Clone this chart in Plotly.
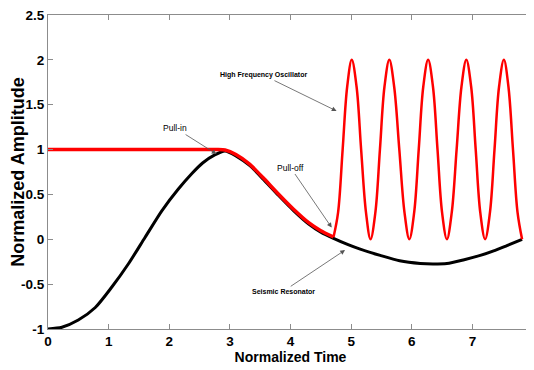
import plotly.graph_objects as go

# Seismic resonator (black)
res_x = [0, 0.23, 0.5, 0.78, 1.05, 1.33, 1.6, 1.88, 2.15, 2.37, 2.55, 2.75, 2.92,
         3.1, 3.33, 3.55, 3.8, 4.05, 4.3, 4.5, 4.71, 4.95, 5.15, 5.48, 5.8, 6.14,
         6.35, 6.58, 6.85, 7.13, 7.35, 7.57, 7.82]
res_y = [-1.0, -0.98, -0.90, -0.76, -0.535, -0.27, 0.02, 0.32, 0.56, 0.73, 0.85, 0.94, 0.985,
         0.93, 0.82, 0.67, 0.49, 0.32, 0.17, 0.08, 0.01, -0.06, -0.11, -0.18, -0.24, -0.27,
         -0.275, -0.27, -0.23, -0.18, -0.13, -0.07, 0.0]

# High frequency oscillator (red) - pull-in / pull-off part
pull_x = [0, 2.8, 2.92, 3.1, 3.33, 3.55, 3.8, 4.05, 4.3, 4.5, 4.71]
pull_y = [1.0, 1.0, 0.995, 0.945, 0.835, 0.685, 0.505, 0.335, 0.185, 0.095, 0.025]

# High frequency oscillator (red) - free oscillation part
osc_x = [4.71, 4.785, 4.86, 4.935, 5.01, 5.09, 5.165, 5.245, 5.32, 5.40, 5.475, 5.55,
         5.63, 5.71, 5.795, 5.88, 5.96, 6.04, 6.115, 6.19, 6.27, 6.35, 6.425, 6.50,
         6.58, 6.66, 6.74, 6.82, 6.90, 6.98, 7.055, 7.13, 7.21, 7.29, 7.365, 7.44,
         7.52, 7.595, 7.67, 7.745, 7.82]
osc_y = [0.025, 0.3, 1.0, 1.7, 2.0, 1.7, 1.0, 0.3, 0.0, 0.3, 1.0, 1.7,
         2.0, 1.7, 1.0, 0.3, 0.0, 0.3, 1.0, 1.7, 2.0, 1.7, 1.0, 0.3,
         0.0, 0.3, 1.0, 1.7, 2.0, 1.7, 1.0, 0.3, 0.0, 0.3, 1.0, 1.7,
         2.0, 1.7, 1.0, 0.3, 0.0]

x_ticks = [0, 1, 2, 3, 4, 5, 6, 7, 8]
y_ticks = [-1, -0.5, 0, 0.5, 1, 1.5, 2, 2.5]
y_tick_text = ["-1", "-0.5", "0", "0.5", "1", "1.5", "2", "2.5"]

SANS = "Liberation Sans, Arial, sans-serif"

fig = go.Figure()
fig.add_trace(go.Scatter(x=res_x, y=res_y, mode="lines",
                         line=dict(color="black", width=3, shape="spline", smoothing=0.7),
                         showlegend=False, hoverinfo="skip"))
fig.add_trace(go.Scatter(x=pull_x, y=pull_y, mode="lines",
                         line=dict(color="#ff0000", width=3.5, shape="spline", smoothing=0.5),
                         showlegend=False, hoverinfo="skip"))
fig.add_trace(go.Scatter(x=osc_x, y=osc_y, mode="lines",
                         line=dict(color="#ff0000", width=2.5, shape="spline", smoothing=1.0),
                         showlegend=False, hoverinfo="skip"))

ann_common = dict(xref="x", yref="y", axref="x", ayref="y", showarrow=True,
                  arrowhead=2, arrowsize=1.2, arrowwidth=0.8, arrowcolor="#555")

annotations = [
    dict(text="Pull-in", x=2.78, y=0.95, ax=2.1, ay=1.24,
         font=dict(family=SANS, size=8.5, color="black")),
    dict(text="Pull-off", x=4.68, y=0.13, ax=4.0, ay=0.8,
         font=dict(family=SANS, size=8.5, color="black")),
    dict(text="<b>High Frequency Oscillator</b>", x=4.76, y=1.43, ax=3.55, ay=1.83,
         font=dict(family=SANS, size=7, color="black")),
    dict(text="<b>Seismic Resonator</b>", x=4.9, y=-0.12, ax=3.88, ay=-0.58,
         font=dict(family=SANS, size=7, color="black")),
]
for a in annotations:
    d = dict(ann_common)
    d.update(a)
    fig.add_annotation(**d)

axis_common = dict(showline=True, linecolor="#8c8c8c", linewidth=1, mirror="ticks",
                   ticks="inside", ticklen=5, tickcolor="#8c8c8c", showgrid=False,
                   zeroline=False, automargin=False, ticklabeloverflow="allow",
                   tickfont=dict(family=SANS, size=13.5, color="black", weight="bold"))

fig.update_xaxes(range=[0, 8], tickvals=x_ticks,
                 title=dict(text="Normalized Time", standoff=2,
                            font=dict(family=SANS, size=14, color="black", weight="bold")),
                 **axis_common)
fig.update_yaxes(range=[-1, 2.5], tickvals=y_ticks, ticktext=y_tick_text,
                 title=dict(text="Normalized Amplitude", standoff=4,
                            font=dict(family=SANS, size=18, color="black", weight="bold")),
                 **axis_common)

# the page body keeps its default 8px margin, so the figure is sized/margined to compensate
fig.update_layout(width=526, height=362, plot_bgcolor="white", paper_bgcolor="white",
                  margin=dict(l=40, r=1, t=7, b=41))

fig.write_html("out.html")
